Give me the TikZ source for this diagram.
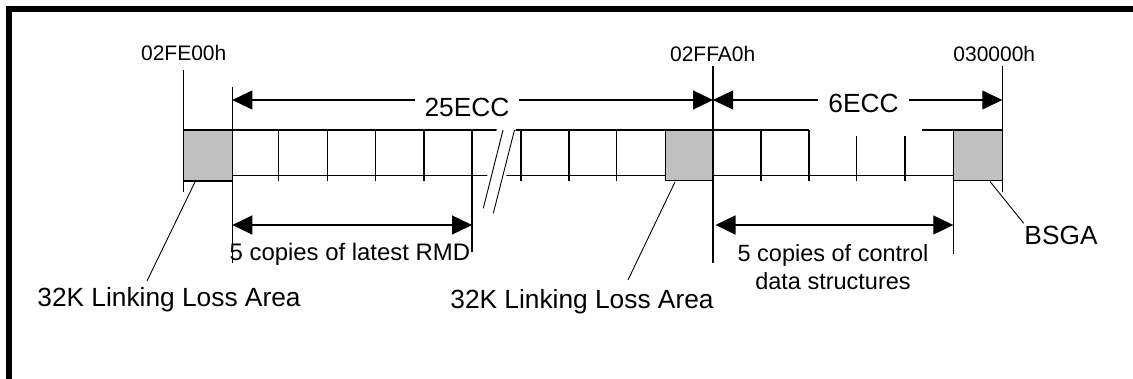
\documentclass[tikz,border=0pt]{standalone}
\usepackage{fontspec}
\setmainfont{Liberation Sans}
\usetikzlibrary{arrows.meta}
\definecolor{boxgray}{RGB}{192,192,192}
\begin{document}
\begin{tikzpicture}[x=1pt,y=-1pt,
  thinln/.style={line width=1.2pt},
  leader/.style={line width=0.9pt},
  dimarrow/.style={thinln,{Triangle[length=20pt,width=19pt]}-{Triangle[length=20pt,width=19pt]}},
  grayblock/.style={thinln,fill=boxgray},
  addr/.style={font=\fontsize{21}{24}\selectfont,anchor=base,inner sep=0pt},
  biglbl/.style={font=\fontsize{26.3}{30}\selectfont,anchor=base,inner sep=0pt},
  midlbl/.style={font=\fontsize{23.5}{28}\selectfont,anchor=base,inner sep=0pt},
  gaplbl/.style={biglbl,fill=white,inner xsep=10pt,inner ysep=2pt},
]
\useasboundingbox (0,0) rectangle (1133,379);
% frame (top and left only)
\draw[line width=5.7pt,line join=miter] (8.85,379) -- (8.85,8.85) -- (1133,8.85);

% strip, first section
\draw[thinln] (232.3,130) -- (666,130);
\draw[thinln] (232.3,175.7) -- (666,175.7);
\foreach \x in {278.3,327.7,375.7,424,521,569,616.7}
  \draw[thinln] (\x,130) -- (\x,181.5);
\draw[thinln] (472,130) -- (472,252);
% break mark
\fill[white] (497,128) -- (516,128) -- (505,182) -- (486,182) -- cycle;
\draw[leader] (503,130) -- (483.3,208.3);
\draw[leader] (514.5,130) -- (493.3,213.3);

% strip, last section
\draw[thinln] (713.3,130) -- (809,130);
\draw[thinln] (922.3,130) -- (953.3,130);
\draw[thinln] (713.3,175.7) -- (953.3,175.7);
\foreach \x in {761,809}
  \draw[thinln] (\x,130) -- (\x,181.5);
\foreach \x in {856.7,905}
  \draw[thinln] (\x,136) -- (\x,181.5);

% gray blocks
\draw[grayblock] (183.7,130) rectangle (232.3,181);
\draw[grayblock] (665.7,130) rectangle (713.3,180.7);
\draw[grayblock] (953.3,130) rectangle (1002.3,180.7);

% address / extension lines
\draw[thinln] (183.7,70) -- (183.7,192);
\draw[thinln] (232.3,87) -- (232.3,263);
\draw[thinln] (713,66) -- (713,263);
\draw[thinln] (1002.3,66) -- (1002.3,192);
\draw[thinln] (953.3,130) -- (953.3,254);

% address labels
\node[addr] (a1) at (183.7,61) {02FE00h};
\node[addr] (a2) at (712.7,61.5) {02FFA0h};
\node[addr] (a3) at (994.3,62) {030000h};

% top dimensions
\coordinate (d1l) at (232.3,100);
\coordinate (d1r) at (713,100);
\coordinate (d2r) at (1002.3,100);
\draw[dimarrow] (d1l) -- (d1r);
\draw[dimarrow] (d1r) -- (d2r);
\node[gaplbl] (l25) at (467,117) {25ECC};
\node[gaplbl] (l6) at (863.5,112.7) {6ECC};

% bottom dimensions
\coordinate (b1l) at (232.3,225);
\coordinate (b1r) at (472,225);
\coordinate (b2l) at (715.5,225);
\coordinate (b2r) at (953.3,225);
\draw[dimarrow] (b1l) -- (b1r);
\draw[dimarrow] (b2l) -- (b2r);
\node[midlbl,anchor=base west,font=\fontsize{23.9}{28}\selectfont] (rmd) at (229.5,261) {5 copies of latest RMD};
\node[midlbl] (ctl1) at (833,262) {5 copies of control};
\node[midlbl] (ctl2) at (833,290) {data structures};

% leaders and area labels
\node[biglbl] (ll1) at (169,306.7) {32K Linking Loss Area};
\node[biglbl] (ll2) at (582,308.3) {32K Linking Loss Area};
\node[biglbl] (bsga) at (1061,245) {BSGA};
\coordinate (p1) at (195,182);
\coordinate (q1) at (147,281);
\coordinate (p2) at (675,182);
\coordinate (q2) at (628,280);
\coordinate (p3) at (990,181.5);
\coordinate (q3) at (1023.7,223.3);
\draw[leader] (p1) -- (q1);
\draw[leader] (p2) -- (q2);
\draw[leader] (p3) -- (q3);
\end{tikzpicture}
\end{document}
